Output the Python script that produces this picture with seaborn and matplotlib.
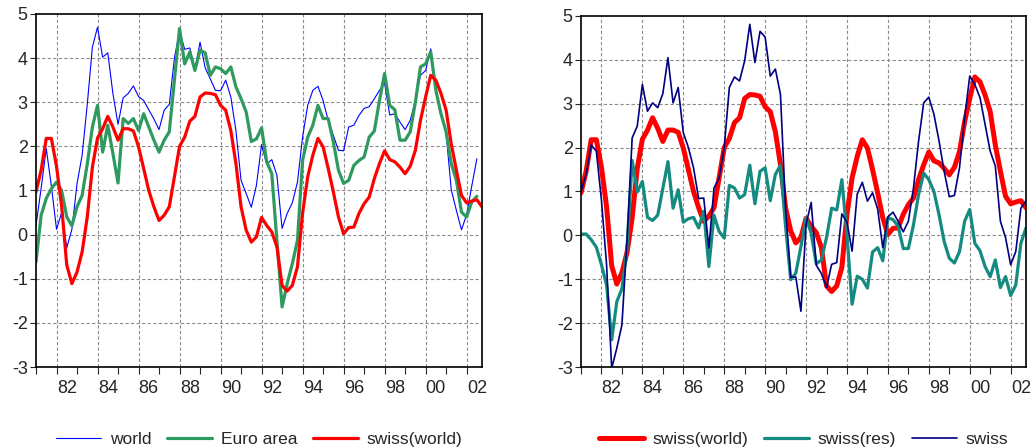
import numpy as np
import pandas as pd
import matplotlib
matplotlib.use("Agg")
import matplotlib.pyplot as plt
import seaborn as sns

# quarterly data 1981Q1 - 2002Q4
quarters = pd.period_range("1981Q1", "2002Q4", freq="Q")
t = quarters.year + (quarters.quarter - 1) / 4.0

world = [0.2, 1.05, 1.95, 1.1, 0.12, 0.5, -0.3, 0.12, 1.15, 1.8, 2.95, 4.25,
         4.7, 4.02, 4.12, 3.2, 2.5, 3.1, 3.2, 3.37, 3.13, 3.04, 2.83, 2.62,
         2.38, 2.82, 2.95, 4.0, 4.62, 4.2, 4.23, 3.75, 4.36, 3.78, 3.53, 3.27,
         3.26, 3.5, 3.12, 2.36, 1.23, 0.93, 0.62, 1.12, 2.04, 1.6, 1.7, 1.34,
         0.14, 0.48, 0.72, 1.19, 2.21, 2.93, 3.27, 3.36, 3.04, 2.59, 2.25, 1.91,
         1.9, 2.44, 2.48, 2.7, 2.86, 2.9, 3.08, 3.27, 3.43, 2.71, 2.74, 2.55,
         2.38, 2.59, 3.04, 3.61, 3.72, 4.21, 3.25, 2.7, 2.3, 1.02, 0.55, 0.11,
         0.45, 1.1, 1.72, np.nan]

euro_area = [-0.62, 0.44, 0.82, 1.04, 1.19, 1.0, 0.4, 0.2, 0.63, 0.89, 1.6, 2.44,
             2.93, 1.87, 2.48, 1.84, 1.17, 2.63, 2.52, 2.63, 2.36, 2.74, 2.44, 2.14,
             1.87, 2.14, 2.33, 3.5, 4.67, 3.87, 4.14, 3.72, 4.18, 4.12, 3.61, 3.8,
             3.76, 3.65, 3.8, 3.35, 3.08, 2.78, 2.11, 2.17, 2.42, 1.65, 1.38, -0.15,
             -1.64, -1.11, -0.66, -0.13, 1.68, 2.21, 2.48, 2.93, 2.63, 2.63, 2.1, 1.46,
             1.16, 1.23, 1.57, 1.68, 1.76, 2.21, 2.35, 3.04, 3.65, 2.93, 2.83, 2.14,
             2.14, 2.33, 3.0, 3.8, 3.87, 4.14, 3.27, 2.74, 2.33, 1.61, 1.23, 0.51,
             0.4, 0.74, 0.87, np.nan]

swiss_world = [0.97, 1.46, 2.18, 2.18, 1.55, 0.65, -0.69, -1.11, -0.85, -0.39, 0.4, 1.53,
               2.19, 2.4, 2.68, 2.44, 2.14, 2.4, 2.4, 2.35, 1.99, 1.5, 1.0, 0.63,
               0.32, 0.44, 0.63, 1.31, 2.0, 2.21, 2.57, 2.68, 3.12, 3.21, 3.2, 3.17,
               2.93, 2.82, 2.36, 1.61, 0.63, 0.1, -0.17, -0.05, 0.39, 0.21, 0.06, -0.28,
               -1.15, -1.28, -1.15, -0.73, 0.48, 1.31, 1.8, 2.18, 1.99, 1.5, 0.97, 0.4,
               0.02, 0.16, 0.17, 0.48, 0.7, 0.85, 1.27, 1.61, 1.9, 1.7, 1.65, 1.53,
               1.38, 1.55, 1.91, 2.59, 3.12, 3.61, 3.5, 3.2, 2.82, 2.06, 1.46, 0.89,
               0.72, 0.76, 0.79, 0.63]

swiss_res = [0.03, 0.03, -0.1, -0.27, -0.67, -1.13, -2.38, -1.51, -1.22, -0.29, 1.71, 0.99,
             1.23, 0.41, 0.34, 0.46, 1.07, 1.68, 0.62, 1.04, 0.3, 0.38, 0.41, 0.17,
             0.55, -0.71, 0.46, 0.09, -0.06, 1.14, 1.08, 0.85, 0.93, 1.6, 0.72, 1.46,
             1.54, 0.79, 1.39, 1.6, 0.2, -1.01, -0.86, -0.25, 0.4, 0.05, -0.65, -0.56,
             -0.05, 0.62, 0.58, 1.27, 0.0, -1.57, -0.93, -1.0, -1.2, -0.38, -0.28, -0.58,
             0.4, 0.36, 0.21, -0.3, -0.3, 0.24, 0.93, 1.42, 1.27, 1.0, 0.47, -0.14,
             -0.52, -0.63, -0.37, 0.32, 0.59, -0.18, -0.35, -0.71, -0.94, -0.56, -1.19, -0.94,
             -1.37, -1.13, -0.18, 0.17]

swiss = [1.0, 1.39, 2.06, 1.92, 0.8, -0.67, -3.03, -2.57, -2.04, -0.1, 2.22, 2.49,
         3.44, 2.83, 3.02, 2.91, 3.23, 4.05, 3.02, 3.37, 2.34, 2.0, 1.54, 0.84,
         0.85, -0.29, 1.08, 1.31, 2.0, 3.37, 3.61, 3.52, 3.98, 4.81, 3.94, 4.65,
         4.52, 3.63, 3.79, 3.21, 0.6, -0.95, -0.95, -1.73, 0.25, 0.75, -0.68, -0.87,
         -1.19, -0.66, -0.62, 0.49, 0.3, -0.36, 0.94, 1.21, 0.78, 0.97, 0.6, -0.28,
         0.42, 0.53, 0.32, 0.08, 0.32, 1.08, 2.15, 3.02, 3.15, 2.76, 2.15, 1.46,
         0.88, 0.91, 1.54, 2.68, 3.63, 3.44, 3.14, 2.53, 1.92, 1.58, 0.32, -0.05,
         -0.67, -0.37, 0.62, 0.79]

df = pd.DataFrame({"t": t, "world": world, "euro": euro_area,
                   "swiss_world": swiss_world, "swiss_res": swiss_res,
                   "swiss": swiss})

sns.set_style("white")
plt.rcParams["font.family"] = ["Liberation Sans", "DejaVu Sans"]
plt.rcParams["axes.unicode_minus"] = False

fig = plt.figure(figsize=(10.34, 4.48), dpi=100)
ax1 = fig.add_axes([36 / 1034, 1 - 367 / 448, 446 / 1034, 353 / 448])
ax2 = fig.add_axes([581 / 1034, 1 - 367 / 448, 445 / 1034, 351 / 448])

# left panel
sns.lineplot(data=df, x="t", y="world", ax=ax1, color="#0000FF", lw=0.8,
             estimator=None, label="world")
sns.lineplot(data=df, x="t", y="euro", ax=ax1, color="#2F9A60", lw=2.3,
             estimator=None, label="Euro area")
sns.lineplot(data=df, x="t", y="swiss_world", ax=ax1, color="#FF0000", lw=2.3,
             estimator=None, label="swiss(world)")

# right panel
sns.lineplot(data=df, x="t", y="swiss_world", ax=ax2, color="#FF0000", lw=3.6,
             estimator=None, label="swiss(world)")
sns.lineplot(data=df, x="t", y="swiss_res", ax=ax2, color="#148A80", lw=2.3,
             estimator=None, label="swiss(res)")
sns.lineplot(data=df, x="t", y="swiss", ax=ax2, color="#000080", lw=1.2,
             estimator=None, label="swiss")

even_years = np.arange(1982, 2003, 2)
for ax in (ax1, ax2):
    ax.set_xlim(1981, 2002.75)
    ax.set_ylim(-3, 5)
    ax.set_xlabel("")
    ax.set_ylabel("")
    ax.set_yticks(range(-3, 6))
    ax.set_xticks(even_years + 0.5)
    ax.set_xticklabels([f"{y % 100:02d}" for y in even_years])
    ax.set_xticks(np.arange(1981, 2003), minor=True)
    ax.tick_params(axis="x", which="major", length=0, pad=9, labelsize=13)
    ax.tick_params(axis="x", which="minor", length=5, width=0.8, direction="out",
                   bottom=True)
    ax.tick_params(axis="y", length=4, width=0.8, direction="out", left=True,
                   pad=2, labelsize=13)
    for v in range(-2, 5):
        ax.axhline(v, color="#8c8c8c", lw=0.8, ls=(0, (3, 2)), zorder=0)
    for y in even_years:
        ax.axvline(y, color="#8c8c8c", lw=0.8, ls=(0, (3, 2)), zorder=0)
    for s in ax.spines.values():
        s.set_color("black")
        s.set_linewidth(1.2)

ax1.legend(loc="upper center", bbox_to_anchor=(0.5, -0.165), ncol=3,
           frameon=False, fontsize=12.5, handlelength=2.6, columnspacing=0.9,
           handletextpad=0.5, borderaxespad=0)
ax2.legend(loc="upper center", bbox_to_anchor=(0.5, -0.165), ncol=3,
           frameon=False, fontsize=12.5, handlelength=2.6, columnspacing=0.9,
           handletextpad=0.5, borderaxespad=0)

fig.savefig("out.png", dpi=100)
plt.close(fig)
